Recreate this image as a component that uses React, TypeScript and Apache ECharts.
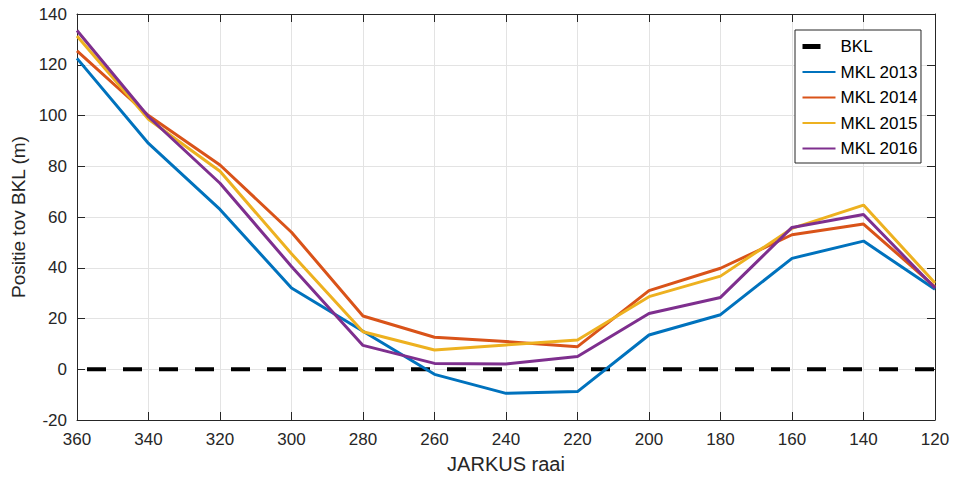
import React, { useEffect, useRef } from "react";
import * as echarts from "echarts";

const raai = [360, 340, 320, 300, 280, 260, 240, 220, 200, 180, 160, 140, 120];
const bkl = [0, 0];
const bklRaai = [360, 120];
const mkl2013 = [122.5, 89, 63, 32, 15, -2, -9.5, -8.8, 13.5, 21.5, 43.7, 50.5, 31.5];
const mkl2014 = [125.5, 100, 80.5, 54, 21, 12.6, 10.9, 8.9, 31, 39.8, 53, 57.2, 32.5];
const mkl2015 = [131.3, 98.5, 78, 45.5, 14.8, 7.6, 9.6, 11.5, 28.6, 36.7, 55.5, 64.7, 34];
const mkl2016 = [133.5, 99.5, 73.3, 40.5, 9.4, 2.3, 2.1, 5, 22, 28.3, 55.9, 61, 32];
const seriesNames = ["BKL", "MKL 2013", "MKL 2014", "MKL 2015", "MKL 2016"];
const colors = ["#000000", "#0072BD", "#D95319", "#EDB120", "#7E2F8E"];

const FONT = "'Liberation Sans', Arial, Helvetica, sans-serif";
const AX = "#262626";

export default function App() {
  const ref = useRef<HTMLDivElement>(null);
  useEffect(() => {
    if (!ref.current) return;
    const chart = echarts.init(ref.current, undefined, { renderer: "svg" });
    const zip = (xs: number[], ys: number[]) => xs.map((x, i) => [x, ys[i]]);
    const mkls = [mkl2013, mkl2014, mkl2015, mkl2016];
    const baseX = {
      type: "value" as const,
      min: 120,
      max: 360,
      interval: 20,
      inverse: true,
    };
    const baseY = { type: "value" as const, min: -20, max: 140, interval: 20 };
    chart.setOption({
      animation: false,
      textStyle: { fontFamily: FONT },
      grid: {
        left: 77,
        right: 19,
        top: 14,
        bottom: 62,
        containLabel: false,
        outerBoundsMode: "none",
      },
      xAxis: [
        {
          ...baseX,
          position: "bottom",
          name: "JARKUS raai",
          nameLocation: "middle",
          nameGap: 34,
          nameTextStyle: { fontSize: 20, color: AX, fontFamily: FONT },
          axisLine: { show: true, onZero: false, lineStyle: { color: AX, width: 1 } },
          axisTick: { show: true, inside: true, length: 8, lineStyle: { color: AX } },
          axisLabel: { fontSize: 17, color: AX, margin: 11, fontFamily: FONT },
          splitLine: { show: true, lineStyle: { color: "#e3e3e3", width: 1 } },
        },
        {
          ...baseX,
          position: "top",
          axisLine: { show: true, onZero: false, lineStyle: { color: AX, width: 1 } },
          axisTick: { show: true, inside: true, length: 8, lineStyle: { color: AX } },
          axisLabel: { show: false },
          splitLine: { show: false },
        },
      ],
      yAxis: [
        {
          ...baseY,
          position: "left",
          name: "Positie tov BKL (m)",
          nameLocation: "middle",
          nameGap: 45,
          nameTextStyle: { fontSize: 19, color: AX, fontFamily: FONT },
          axisLine: { show: true, onZero: false, lineStyle: { color: AX, width: 1 } },
          axisTick: { show: true, inside: true, length: 8, lineStyle: { color: AX } },
          axisLabel: { fontSize: 17, color: AX, margin: 10, fontFamily: FONT },
          splitLine: { show: true, lineStyle: { color: "#e3e3e3", width: 1 } },
        },
        {
          ...baseY,
          position: "right",
          axisLine: { show: true, onZero: false, lineStyle: { color: AX, width: 1 } },
          axisTick: { show: true, inside: true, length: 8, lineStyle: { color: AX } },
          axisLabel: { show: false },
          splitLine: { show: false },
        },
      ],
      legend: {
        orient: "vertical",
        left: 795,
        top: 30,
        itemWidth: 33,
        itemHeight: 14,
        itemGap: 8.5,
        padding: [8, 3, 6, 5],
        borderColor: AX,
        borderWidth: 1,
        backgroundColor: "#ffffff",
        itemStyle: { opacity: 0 },
        textStyle: { fontSize: 17, color: "#000000", fontFamily: FONT, lineHeight: 14 },
        data: seriesNames.map((n, i) =>
          i === 0
            ? { name: n, lineStyle: { type: [18, 60], width: 5, dashOffset: 0 } }
            : { name: n }
        ),
      },
      series: [
        {
          name: seriesNames[0],
          type: "line",
          data: zip(bklRaai, bkl),
          symbol: "none",
          color: colors[0],
          lineStyle: { color: colors[0], width: 4, type: [19, 17], dashOffset: 26 },
          z: 3,
        },
        ...mkls.map((d, i) => ({
          name: seriesNames[i + 1],
          type: "line",
          data: zip(raai, d),
          symbol: "none",
          color: colors[i + 1],
          lineStyle: { color: colors[i + 1], width: 3 },
          z: 4 + i,
        })),
      ],
    });
    return () => chart.dispose();
  }, []);
  return (
    <div
      ref={ref}
      style={{ position: "absolute", left: 0, top: 0, width: 954, height: 482 }}
    />
  );
}
